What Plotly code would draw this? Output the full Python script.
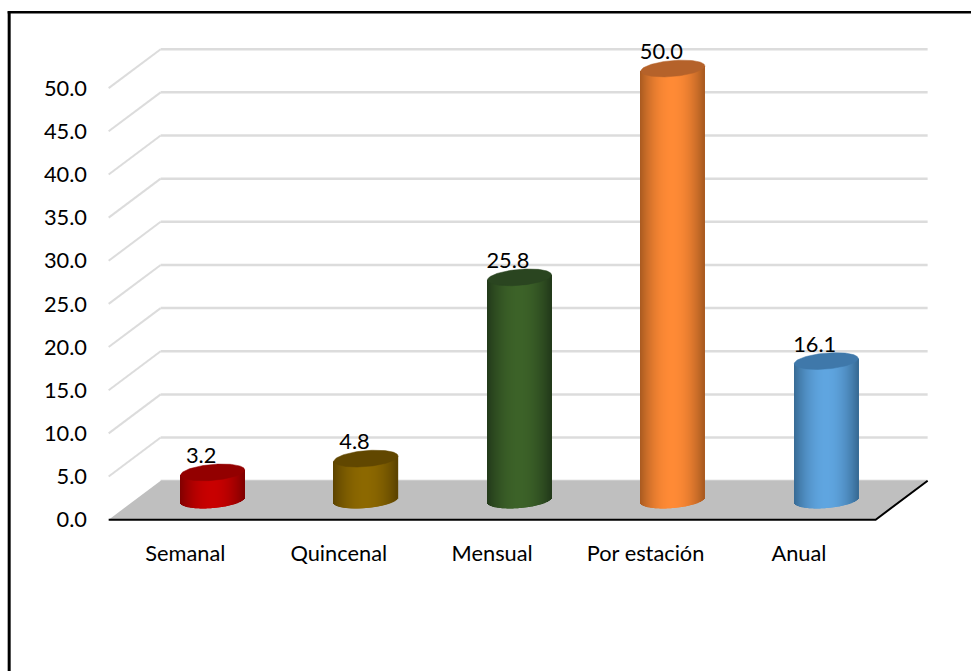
import numpy as np
import plotly.graph_objects as go

# ---- data ----
categories = ["Semanal", "Quincenal", "Mensual", "Por estación", "Anual"]
values = [3.2, 4.8, 25.8, 50.0, 16.1]
tick_values = [0, 5, 10, 15, 20, 25, 30, 35, 40, 45, 50]

# ---- style ----
center_colors = ["#c80000", "#8c6800", "#3c6228", "#ff8a35", "#5fa5e0"]
edge_colors = ["#800000", "#5c4300", "#22391a", "#a85a20", "#376a94"]
cap_colors = ["#930000", "#614700", "#2a4520", "#b5622a", "#3f78aa"]

PX_X = 153.4  # pixels per category
PX_Y = 8.64   # pixels per value unit
DEPTH_X = 52 / PX_X
DEPTH_Y = 39 / PX_Y
X_RANGE = [-0.55, 4.9]
Y_RANGE = [-0.5, 55.0]
LEFT = 109 + (X_RANGE[0] + 0.5) * PX_X
RIGHT = 109 + (X_RANGE[1] + 0.5) * PX_X
BOTTOM = 520 - Y_RANGE[0] * PX_Y
TOP = 520 - Y_RANGE[1] * PX_Y
W, H = 971, 671

FONT = "Lato, Carlito, Calibri, sans-serif"
FONT_SIZE = 21.8
RX = 32 / PX_X
RY = 8.0 / PX_Y
TILT = 2.6 / PX_Y
CX_SHIFT = 0.178
BASE = DEPTH_Y / 2 + 0.02


def hex_rgb(c):
    return np.array([int(c[i:i + 2], 16) for i in (1, 3, 5)], dtype=float)


def mix(a, b, t):
    r = hex_rgb(a) * (1 - t) + hex_rgb(b) * t
    return "rgb(%d,%d,%d)" % tuple(np.round(r))


fig = go.Figure()

# back wall, side wall, floor
shapes = []
gx0, gx1 = -0.5 + DEPTH_X, 4.5 + DEPTH_X
for v in tick_values[1:]:
    shapes.append(dict(type="line", layer="below", xref="x", yref="y", x0=gx0, x1=gx1,
                       y0=v + DEPTH_Y, y1=v + DEPTH_Y, line=dict(color="#dcdcdc", width=2.5)))
    shapes.append(dict(type="line", layer="below", xref="x", yref="y", x0=-0.5, x1=gx0,
                       y0=v, y1=v + DEPTH_Y, line=dict(color="#dcdcdc", width=2)))
shapes.append(dict(type="line", layer="below", xref="x", yref="y", x0=gx0, x1=gx1,
                   y0=DEPTH_Y, y1=DEPTH_Y, line=dict(color="#d0d0d0", width=2)))
shapes.append(dict(type="path", layer="below", xref="x", yref="y",
                   path=f"M -0.5 0 L 4.5 0 L {gx1} {DEPTH_Y} L {gx0} {DEPTH_Y} Z",
                   fillcolor="#bfbfbf", line=dict(width=0)))
shapes.append(dict(type="path", layer="below", xref="x", yref="y",
                   path=f"M -0.5 0 L 4.5 0 L {gx1} {DEPTH_Y}",
                   line=dict(color="#000000", width=2)))

# chart frame, running off the right and bottom of the picture
def px(x):
    return (x - LEFT) / (RIGHT - LEFT)


def py(y):
    return (BOTTOM - y) / (BOTTOM - TOP)


shapes.append(dict(type="line", xref="paper", yref="paper", x0=px(8), x1=px(W + 5),
                   y0=py(12), y1=py(12), line=dict(color="#000000", width=2.4)))
shapes.append(dict(type="line", xref="paper", yref="paper", x0=px(9.5), x1=px(9.5),
                   y0=py(11), y1=py(H + 5), line=dict(color="#000000", width=3)))

# cylinder bodies: one thin bar per pixel column, shaded from edge to centre
N = 64
u = (np.arange(N) + 0.5) / N * 2 - 1
arc = np.sqrt(1 - u ** 2)
for i, val in enumerate(values):
    cx = i + CX_SHIFT
    xs = cx + u * RX
    bases = BASE + TILT * u - RY * arc
    tops = BASE + val + TILT * u  # upper end hidden beneath the cap
    cols = [mix(edge_colors[i], center_colors[i], 1 - abs(t) ** 2.0) for t in u]
    fig.add_trace(go.Bar(x=xs, y=tops - bases, base=bases, width=2 * RX / N * 1.25,
                         marker=dict(color=cols, line=dict(width=0)),
                         hoverinfo="skip", showlegend=False))

# cylinder caps
t = np.linspace(0, 2 * np.pi, 121)
for i, val in enumerate(values):
    cu = np.cos(t)
    fig.add_trace(go.Scatter(x=i + CX_SHIFT + RX * cu,
                             y=BASE + val + TILT * cu + RY * np.sin(t),
                             mode="lines", fill="toself", fillcolor=cap_colors[i],
                             line=dict(color=cap_colors[i], width=0.5),
                             hoverinfo="skip", showlegend=False, cliponaxis=False))

# value labels
fig.add_trace(go.Scatter(x=[i + 0.103 for i in range(len(values))],
                         y=[BASE + v + RY - 0.46 for v in values],
                         mode="text", text=[f"{v:.1f}" for v in values],
                         textposition="top center",
                         textfont=dict(family=FONT, size=FONT_SIZE, color="#000000"),
                         hoverinfo="skip", showlegend=False, cliponaxis=False))

fig.update_layout(
    width=W, height=H, autosize=False,
    margin=dict(l=LEFT, r=W - RIGHT, t=TOP, b=H - BOTTOM, pad=0),
    paper_bgcolor="#ffffff", plot_bgcolor="rgba(0,0,0,0)",
    barmode="overlay", showlegend=False, shapes=shapes,
    font=dict(family=FONT, size=FONT_SIZE, color="#000000"),
    xaxis=dict(range=X_RANGE, tickmode="array", tickvals=list(range(5)), ticktext=categories,
               showgrid=False, zeroline=False, showline=False, ticks="",
               ticklabelstandoff=14, automargin=False, fixedrange=True),
    yaxis=dict(range=Y_RANGE, tickmode="array", tickvals=tick_values,
               ticktext=[f"{v:.1f}" for v in tick_values],
               showgrid=False, zeroline=False, showline=False, ticks="",
               ticklabelstandoff=13, automargin=False, fixedrange=True),
)

fig.write_html("out.html", config=dict(displayModeBar=False),
               post_script="document.body.style.margin='0';document.documentElement.style.overflow='hidden';")
